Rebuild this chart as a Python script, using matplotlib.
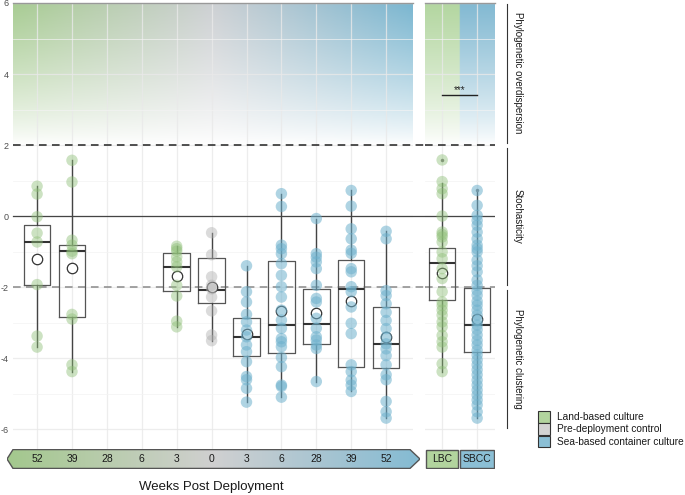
import numpy as np
import matplotlib.pyplot as plt
import matplotlib.transforms as mtransforms
from matplotlib.patches import Polygon, Rectangle
from matplotlib.lines import Line2D
from matplotlib.colors import LinearSegmentedColormap, to_rgb

plt.rcParams['font.family'] = ['Liberation Sans', 'DejaVu Sans']

# ---- data ----
weeks = ["52", "39", "28", "6", "3", "0", "3", "6", "28", "39", "52"]
groups = ["LBC", "LBC", "LBC", "LBC", "LBC", "PDC", "SBCC", "SBCC", "SBCC", "SBCC", "SBCC"]

lbc_52 = [0.84, 0.62, -0.02, -0.48, -0.73, -1.93, -3.38, -3.69]
lbc_39 = [1.57, 0.96, -0.68, -0.82, -0.99, -1.06, -2.77, -2.90, -4.19, -4.38]
lbc_28 = []
lbc_6 = []
lbc_3 = [-0.85, -0.92, -0.99, -1.15, -1.29, -1.43, -1.95, -2.25, -2.96, -3.12]
pdc_0 = [-0.47, -1.09, -1.71, -1.95, -2.05, -2.28, -2.67, -3.35, -3.51]
sbcc_3 = [-1.40, -2.13, -2.42, -2.77, -2.98, -3.21, -3.40, -3.63, -3.82, -4.10,
          -4.52, -4.61, -4.85, -5.24]
sbcc_6 = [0.63, 0.27, -0.82, -0.92, -1.06, -1.34, -1.67, -1.99, -2.28, -2.65,
          -2.93, -3.16, -3.45, -3.54, -3.68, -3.98, -4.24, -4.76, -4.80, -5.10]
sbcc_28 = [-0.07, -1.06, -1.16, -1.29, -1.48, -1.95, -2.32, -2.42, -2.88, -3.16,
           -3.40, -3.49, -3.63, -3.73, -4.66]
sbcc_39 = [0.72, 0.28, -0.36, -0.64, -0.96, -1.05, -1.48, -1.57, -1.99, -2.13,
           -2.56, -3.02, -3.31, -4.19, -4.38, -4.62, -4.76, -4.94]
sbcc_52 = [-0.43, -0.64, -2.10, -2.24, -2.47, -2.71, -2.94, -3.17, -3.41, -3.60,
           -3.74, -3.93, -4.19, -4.47, -4.61, -5.22, -5.51, -5.69]
timeline_points = [lbc_52, lbc_39, lbc_28, lbc_6, lbc_3, pdc_0,
                   sbcc_3, sbcc_6, sbcc_28, sbcc_39, sbcc_52]

# box summaries for the timeline (nan = no samples)
nan = np.nan
box_q3 = [-0.26, -0.82, nan, nan, -1.03, -1.17, -2.86, -1.26, -2.06, -1.25, -2.56]
box_med = [-0.72, -0.97, nan, nan, -1.43, -2.09, -3.41, -3.07, -3.04, -2.06, -3.60]
box_q1 = [-1.93, -2.83, nan, nan, -2.11, -2.46, -3.93, -3.87, -3.59, -4.26, -4.29]
box_mean = [-1.21, -1.45, nan, nan, -1.69, -1.99, -3.33, -2.67, -2.72, -2.39, -3.41]
whisk_hi = [0.84, 1.57, nan, nan, -0.85, -0.47, -1.40, 0.63, -0.07, 0.72, -0.43]
whisk_lo = [-3.69, -4.38, nan, nan, -3.12, -3.51, -5.24, -5.10, -4.66, -4.94, -5.69]

# pooled groups
pooled = ["LBC", "SBCC"]
lbc_all = [1.58, 0.97, 0.77, 0.63, 0.0, -0.45, -0.52, -0.59, -0.73, -1.01, -1.20,
           -1.48, -1.76, -2.13, -2.42, -2.52, -2.65, -2.79, -2.98, -3.12, -3.36,
           -3.54, -3.69, -4.16, -4.38]
sbcc_all = [0.72, 0.30, 0.02, -0.12, -0.26, -0.45, -0.64, -0.82, -0.92, -1.01,
            -1.24, -1.40, -1.57, -1.80, -1.95, -2.10, -2.23, -2.40, -2.51, -2.65,
            -2.79, -2.95, -3.07, -3.20, -3.35, -3.50, -3.63, -3.78, -3.91, -4.05,
            -4.19, -4.33, -4.47, -4.62, -4.76, -4.90, -5.04, -5.18, -5.32, -5.51,
            -5.69]
pooled_q3 = [-0.90, -2.02]
pooled_med = [-1.32, -3.07]
pooled_q1 = [-2.37, -3.84]
pooled_mean = [-1.59, -2.90]
pooled_hi = [0.94, 0.67]
pooled_lo = [-4.38, -5.69]
pooled_out = [[1.58], [0.72]]

legend_labels = ["Land-based culture", "Pre-deployment control", "Sea-based container culture"]
zone_labels = ["Phylogenetic overdispersion", "Stochasticity", "Phylogenetic clustering"]

# ---- colours ----
pt_col = {"LBC": "#8fbf78", "PDC": "#b0b0b0", "SBCC": "#6eb1cd"}
pt_alpha = {"LBC": 0.45, "PDC": 0.45, "SBCC": 0.55}
fill_col = {"LBC": "#b2d49e", "PDC": "#d3d3d3", "SBCC": "#8bbfd5"}
top_cmap = LinearSegmentedColormap.from_list("tl", ["#a8cc93", "#cdd0d3", "#7ab6d0"])
band_cmap = LinearSegmentedColormap.from_list("bd", ["#a3c88d", "#d0d0d0", "#84bbd3"])

W, H = 685, 495
fig = plt.figure(figsize=(W / 100, H / 100), dpi=100)

YLO, YHI = -6.56, 6.0
X0, X1 = 0.31, 11.77
ax1 = fig.add_axes([13 / W, (H - 449) / H, 400 / W, 446 / H])
ax2 = fig.add_axes([425 / W, (H - 449) / H, 70 / W, 446 / H])
pxu = 400 / (X1 - X0)

pos = np.arange(1, 12)
pos2 = np.array([1, 2])


def top_fade(ax, x0, x1, colfun):
    xs = np.linspace(x0, x1, 300)
    ys = np.linspace(6, 2, 120)
    a = ((ys - 2) / 4) ** 0.8
    cols = np.array([colfun(x) for x in xs])
    img = cols[None, :, :] * a[:, None, None] + (1 - a[:, None, None])
    ax.imshow(img, extent=(x0, x1, 2, 6), aspect='auto', zorder=0, interpolation='bilinear')


top_fade(ax1, X0, X1, lambda x: top_cmap((x - X0) / (X1 - X0))[:3])
top_fade(ax2, 0.51, 2.51,
         lambda x: to_rgb("#b3d6a0") if x < 1.5 else to_rgb("#82b9d2"))

for ax, xl in [(ax1, (X0, X1)), (ax2, (0.51, 2.51))]:
    ax.set_xlim(*xl)
    ax.set_ylim(YLO, YHI)
    ax.set_yticks([6, 4, 2, 0, -2, -4, -6])
    ax.set_yticks([5, 3, 1, -1, -3, -5], minor=True)
    ax.grid(True, which='major', color='#e9e9e9', lw=0.9, alpha=0.8)
    ax.grid(True, which='minor', axis='y', color='#f3f3f3', lw=0.6, alpha=0.8)
    ax.set_axisbelow(True)
    ax.tick_params(which='both', length=0)
    for s in ['left', 'right', 'bottom']:
        ax.spines[s].set_visible(False)
    ax.spines['top'].set_color('#999999')
    ax.spines['top'].set_linewidth(1.0)

ax1.set_xticks(pos)
ax1.set_xticklabels([])
ax1.set_yticklabels(["6", "4", "2", "0", "-2", "-4", "-6"], fontsize=6.5, color='#4d4d4d')
ax1.tick_params(axis='y', pad=3)
ax2.set_xticks(pos2)
ax2.set_xticklabels([])
ax2.set_yticklabels([])

# reference lines
gap = 12 / pxu
ax1.plot([X0, X1 + gap], [2, 2], color='#222222', lw=1.1, dashes=(5, 3.5), zorder=1.5, clip_on=False)
ax1.plot([X0, X1 + gap], [0, 0], color='#444444', lw=0.9, zorder=1.5, clip_on=False)
ax1.plot([X0, X1 + gap], [-2, -2], color='#8a8a8a', lw=1.1, dashes=(5, 3.5), zorder=1.5, clip_on=False)
ax2.axhline(2, color='#222222', lw=1.1, dashes=(5, 3.5), zorder=1.5)
ax2.axhline(0, color='#444444', lw=0.9, zorder=1.5)
ax2.axhline(-2, color='#8a8a8a', lw=1.1, dashes=(5, 3.5), zorder=1.5)

boxkw = dict(widths=0.76, showcaps=False, showfliers=True, patch_artist=False,
             boxprops=dict(color='#555555', lw=0.9),
             whiskerprops=dict(color='#444444', lw=1.0),
             medianprops=dict(color='#333333', lw=1.5),
             flierprops=dict(marker='o', markersize=2.5, markerfacecolor='#777777',
                             markeredgecolor='none'),
             manage_ticks=False, zorder=2)

# timeline boxes
stats, spos = [], []
for i in range(11):
    if np.isnan(box_med[i]):
        continue
    stats.append(dict(med=box_med[i], q1=box_q1[i], q3=box_q3[i],
                      whislo=whisk_lo[i], whishi=whisk_hi[i], fliers=[]))
    spos.append(pos[i])
ax1.bxp(stats, positions=spos, **boxkw)
for i in range(11):
    if np.isnan(box_mean[i]):
        continue
    ax1.plot(pos[i], box_mean[i], 'o', ms=7.5, mfc='white', mec='#333333', mew=0.9, zorder=3)
for i, vals in enumerate(timeline_points):
    if not vals:
        continue
    g = groups[i]
    ax1.scatter(np.full(len(vals), pos[i]), vals, s=68, color=pt_col[g],
                alpha=pt_alpha[g], edgecolors='none', zorder=4)

# pooled boxes
stats2 = [dict(med=pooled_med[k], q1=pooled_q1[k], q3=pooled_q3[k],
               whislo=pooled_lo[k], whishi=pooled_hi[k], fliers=pooled_out[k])
          for k in range(2)]
ax2.bxp(stats2, positions=pos2, **boxkw)
for k in range(2):
    ax2.plot(pos2[k], pooled_mean[k], 'o', ms=7.5, mfc='white', mec='#333333', mew=0.9, zorder=3)
for k, vals in enumerate([lbc_all, sbcc_all]):
    g = pooled[k]
    ax2.scatter(np.full(len(vals), pos2[k]), vals, s=68, color=pt_col[g],
                alpha=pt_alpha[g], edgecolors='none', zorder=4)

# significance
ax2.plot([1, 2], [3.4, 3.4], color='#222222', lw=1.0)
ax2.text(1.5, 3.42, "***", ha='center', va='bottom', fontsize=7, color='#222222')

# timeline arrow band
axb = fig.add_axes([7 / W, (H - 469) / H, 413 / W, 20 / H])
bx0, bx1 = X0 - 6 / pxu, X1 + 7 / pxu
tipL, tipR = 6 / pxu, 10 / pxu
grad = band_cmap(np.linspace(0, 1, 256))[None, :, :3]
im = axb.imshow(grad, extent=(bx0, bx1, 0, 1), aspect='auto', zorder=1)
poly = Polygon([(bx0, 0.5), (bx0 + tipL, 1), (bx1 - tipR, 1), (bx1, 0.5),
                (bx1 - tipR, 0), (bx0 + tipL, 0)], closed=True,
               facecolor='none', edgecolor='#555555', lw=1.0, zorder=3)
axb.add_patch(poly)
im.set_clip_path(poly)
axb.set_xlim(bx0, bx1)
axb.set_ylim(-0.03, 1.03)
axb.axis('off')
for i, w in enumerate(weeks):
    axb.text(pos[i], 0.5, w, ha='center', va='center', fontsize=7.5, color='#1a1a1a')

axb2 = fig.add_axes([425 / W, (H - 469) / H, 70 / W, 20 / H])
axb2.set_xlim(0, 70)
axb2.set_ylim(-0.03, 1.03)
axb2.axis('off')
for k, (lab, x0b, wb) in enumerate(zip(pooled, [0.7, 35.0], [32.3, 34.3])):
    axb2.add_patch(Rectangle((x0b, 0), wb, 1, facecolor=fill_col[lab],
                             edgecolor='#555555', lw=1.0))
    axb2.text(x0b + wb / 2, 0.5, lab, ha='center', va='center', fontsize=7.5, color='#1a1a1a')

# x label
tr_x = mtransforms.blended_transform_factory(ax1.transData, fig.transFigure)
fig.text(6, 1 - 487 / H, "Weeks Post Deployment", transform=tr_x, ha='center',
         va='center', fontsize=9.5, color='#1a1a1a')

# zone brackets on the right
tr_y = mtransforms.blended_transform_factory(fig.transFigure, ax1.transData)
for (ya, yb), lab in zip([(5.98, 2.07), (1.93, -1.93), (-2.07, -5.98)], zone_labels):
    fig.add_artist(Line2D([507 / W, 507 / W], [ya, yb], transform=tr_y,
                          color='#333333', lw=0.8))
    fig.text(518 / W, (ya + yb) / 2, lab, transform=tr_y, rotation=270,
             ha='center', va='center', fontsize=7, color='#1a1a1a')

# legend
for k, (lab, key) in enumerate(zip(legend_labels, ["LBC", "PDC", "SBCC"])):
    ytop = 411 + k * 12.4
    fig.add_artist(Rectangle((538 / W, 1 - (ytop + 11.5) / H), 12 / W, 11.5 / H,
                             transform=fig.transFigure, facecolor=fill_col[key],
                             edgecolor='#333333', lw=0.8))
    fig.text(557 / W, 1 - (ytop + 5.8) / H, lab, ha='left', va='center',
             fontsize=7.3, color='#1a1a1a')

fig.savefig("out.png", dpi=100)
